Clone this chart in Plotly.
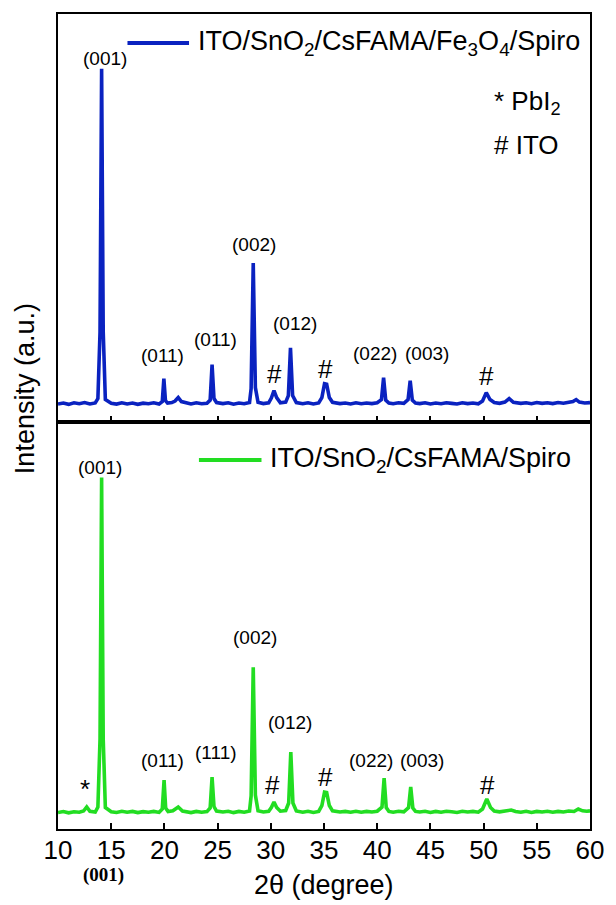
import plotly.graph_objects as go
from plotly.subplots import make_subplots

# ---- XRD patterns (2theta in degrees, intensity in arbitrary units) ----
two_theta_fe = [10.0, 10.5, 11.0, 11.5, 12.0, 12.5, 13.0, 13.5, 13.75, 13.95, 14.1, 14.25, 14.45,
                15.0, 15.5, 16.0, 16.5, 17.0, 17.5, 18.0, 18.5, 19.0, 19.5, 19.8, 19.95, 20.1, 20.3,
                20.7, 21.0, 21.3, 21.6, 22.0, 22.5, 23.0, 23.5, 24.0, 24.3, 24.48, 24.66, 24.9,
                25.5, 26.0, 26.5, 27.0, 27.5, 28.0, 28.15, 28.35, 28.55, 28.8, 29.3, 29.8, 30.05,
                30.3, 30.55, 30.9, 31.4, 31.65, 31.85, 32.05, 32.4, 33.0, 33.5, 34.0, 34.5, 34.8,
                35.05, 35.25, 35.5, 35.8, 36.5, 37.0, 37.5, 38.0, 38.5, 39.0, 39.5, 40.0, 40.4,
                40.6, 40.8, 41.1, 41.5, 42.0, 42.5, 42.9, 43.1, 43.3, 43.6, 44.0, 44.5, 45.0, 45.5,
                46.0, 46.5, 47.0, 47.5, 48.0, 48.5, 49.0, 49.5, 49.9, 50.25, 50.6, 51.0, 51.5,
                52.0, 52.4, 52.8, 53.5, 54.0, 54.5, 55.0, 55.5, 56.0, 56.5, 57.0, 57.5, 58.0,
                58.4, 58.7, 59.0, 59.5, 60.0]
intensity_fe = [175, 185, 172, 188, 178, 190, 176, 186, 230, 900, 3540, 900, 220,
                182, 175, 188, 176, 185, 172, 184, 179, 188, 176, 200, 430, 210, 185,
                190, 205, 240, 200, 186, 176, 188, 178, 184, 215, 570, 230, 190,
                180, 188, 174, 186, 178, 190, 330, 1590, 340, 192, 180, 188, 235,
                310, 240, 188, 195, 260, 740, 260, 190, 178, 188, 176, 186, 240,
                380, 375, 240, 192, 180, 186, 176, 188, 178, 186, 180, 188, 220,
                440, 215, 186, 178, 188, 182, 220, 410, 215, 186, 180, 188, 176, 186,
                178, 188, 182, 176, 188, 180, 186, 178, 205, 290, 220, 190, 182,
                195, 230, 192, 182, 188, 178, 190, 182, 188, 180, 190, 184, 192,
                200, 220, 195, 186, 190]

two_theta_ref = [10.0, 10.5, 11.0, 11.5, 12.0, 12.4, 12.7, 13.0, 13.5, 13.75, 13.95, 14.1, 14.25,
                 14.45, 15.0, 15.5, 16.0, 16.5, 17.0, 17.5, 18.0, 18.5, 19.0, 19.5, 19.8, 19.97,
                 20.12, 20.35, 20.8, 21.3, 21.7, 22.0, 22.5, 23.0, 23.5, 24.0, 24.3, 24.48, 24.66,
                 24.9, 25.5, 26.0, 26.5, 27.0, 27.5, 28.0, 28.15, 28.35, 28.55, 28.8, 29.3, 29.8,
                 30.05, 30.3, 30.55, 30.9, 31.4, 31.68, 31.88, 32.08, 32.4, 33.0, 33.5, 34.0, 34.5,
                 34.8, 35.05, 35.25, 35.5, 35.8, 36.5, 37.0, 37.5, 38.0, 38.5, 39.0, 39.5, 40.0,
                 40.45, 40.65, 40.85, 41.1, 41.5, 42.0, 42.5, 42.95, 43.15, 43.35, 43.6, 44.0,
                 44.5, 45.0, 45.5, 46.0, 46.5, 47.0, 47.5, 48.0, 48.5, 49.0, 49.5, 49.9, 50.3,
                 50.65, 51.0, 51.5, 52.0, 52.6, 53.0, 53.5, 54.0, 54.5, 55.0, 55.5, 56.0, 56.5,
                 57.0, 57.5, 58.0, 58.5, 58.9, 59.3, 59.7, 60.0]
intensity_ref = [165, 175, 162, 172, 168, 180, 220, 178, 170, 220, 900, 3520, 900,
                 215, 172, 165, 178, 168, 176, 164, 174, 168, 176, 166, 200, 490,
                 210, 175, 182, 220, 180, 172, 164, 176, 168, 174, 210, 520, 225,
                 180, 170, 178, 164, 176, 168, 180, 330, 1620, 340, 182, 170, 178,
                 215, 270, 215, 178, 185, 260, 770, 260, 180, 168, 178, 166, 176,
                 235, 370, 365, 235, 182, 170, 176, 168, 178, 168, 176, 170, 178,
                 220, 510, 215, 176, 168, 178, 172, 215, 420, 210, 176, 170,
                 178, 166, 176, 168, 178, 172, 166, 178, 170, 176, 168, 200, 300,
                 215, 180, 172, 178, 190, 176, 168, 178, 166, 176, 170, 178, 168,
                 176, 170, 180, 175, 200, 182, 178, 182]

# ---- peak labels: (text, 2theta, intensity, font size) ----
labels_fe = [("(001)", 14.38, 3640, 19), ("(011)", 19.8, 660, 19), ("(011)", 24.83, 820, 19),
             ("(002)", 28.38, 1780, 19), ("#", 30.34, 480, 26), ("(012)", 32.3, 980, 19),
             ("#", 35.1, 530, 26), ("(022)", 39.76, 680, 19), ("(003)", 44.7, 680, 19),
             ("#", 50.3, 460, 26)]
labels_ref = [("(001)", 13.92, 3620, 19), ("*", 12.5, 400, 26), ("(011)", 19.8, 690, 19),
              ("(111)", 24.83, 770, 19), ("(002)", 28.56, 1920, 19), ("(012)", 31.83, 1070, 19),
              ("#", 30.15, 440, 26), ("#", 35.1, 520, 26), ("(022)", 39.38, 690, 19),
              ("(003)", 44.23, 690, 19), ("#", 50.4, 440, 26)]

x_ticks = [10, 15, 20, 25, 30, 35, 40, 45, 50, 55, 60]

name_fe = "ITO/SnO<sub>2</sub>/CsFAMA/Fe<sub>3</sub>O<sub>4</sub>/Spiro"
name_ref = "ITO/SnO<sub>2</sub>/CsFAMA/Spiro"
color_fe = "#0a22c0"
color_ref = "#22dd22"
FONT = "Liberation Sans, Arial, sans-serif"

fig = make_subplots(rows=2, cols=1, shared_xaxes=True, vertical_spacing=0)

fig.add_trace(go.Scatter(x=two_theta_fe, y=intensity_fe, mode="lines", name=name_fe,
                         line=dict(color=color_fe, width=3.6), showlegend=False), row=1, col=1)
fig.add_trace(go.Scatter(x=two_theta_ref, y=intensity_ref, mode="lines", name=name_ref,
                         line=dict(color=color_ref, width=3.6), showlegend=False), row=2, col=1)


def text_note(x, y, text, size, xref="paper", yref="paper", xanchor="center",
              family=FONT, angle=0):
    return dict(x=x, y=y, xref=xref, yref=yref, text=text, showarrow=False,
                xanchor=xanchor, yanchor="middle", textangle=angle,
                font=dict(family=family, size=size, color="black"))


ann = []
for text, xx, yy, fs in labels_fe:
    ann.append(text_note(xx, yy, text, fs, xref="x", yref="y"))
for text, xx, yy, fs in labels_ref:
    ann.append(text_note(xx, yy, text, fs, xref="x2", yref="y2"))

# legend keys
fig.add_shape(type="line", xref="paper", yref="paper", x0=0.1306, x1=0.2463, y0=0.9645, y1=0.9645,
              line=dict(color=color_fe, width=4))
fig.add_shape(type="line", xref="paper", yref="paper", x0=0.2649, x1=0.3825, y0=0.4529, y1=0.4529,
              line=dict(color=color_ref, width=4))
ann.append(text_note(0.2593, 0.9645, name_fe, 27, xanchor="left"))
ann.append(text_note(0.3955, 0.4529, name_ref, 27, xanchor="left"))
ann.append(text_note(0.815, 0.892, "* PbI<sub>2</sub>", 26, xanchor="left"))
ann.append(text_note(0.815, 0.8397, "# ITO", 26, xanchor="left"))

# axis titles
ann.append(text_note(-0.0616, 0.54, "Intensity (a.u.)", 27, angle=-90))
ann.append(text_note(0.5, -0.0685, "2\u03b8 (degree)", 27))
ann.append(text_note(0.0858, -0.0565, "<b>(001)</b>", 19,
                     family="Liberation Serif, Times New Roman, serif"))

axis_common = dict(range=[10, 60], tickvals=x_ticks, ticks="inside", ticklen=6, tickwidth=1.5,
                   tickcolor="black", showline=True, linecolor="black", linewidth=1.5,
                   mirror=True, showgrid=False, zeroline=False)
fig.update_xaxes(**axis_common)
fig.update_xaxes(showticklabels=False, row=1, col=1)
fig.update_xaxes(showticklabels=True, tickfont=dict(family=FONT, size=26, color="black"),
                 tickangle=0, ticklabelstandoff=-3, row=2, col=1)

y_common = dict(showline=True, linecolor="black", linewidth=1.5, mirror=True, showgrid=False,
                zeroline=False, showticklabels=False, ticks="")
fig.update_yaxes(range=[0, 4090], domain=[0.5, 1.0], **y_common, row=1, col=1)
fig.update_yaxes(range=[0, 4080], domain=[0.0, 0.5], **y_common, row=2, col=1)

fig.update_layout(width=616, height=905, margin=dict(l=58, r=22, t=12, b=76),
                  plot_bgcolor="white", paper_bgcolor="white", annotations=ann,
                  showlegend=False, font=dict(family=FONT, color="black"))

fig.write_html("out.html")
